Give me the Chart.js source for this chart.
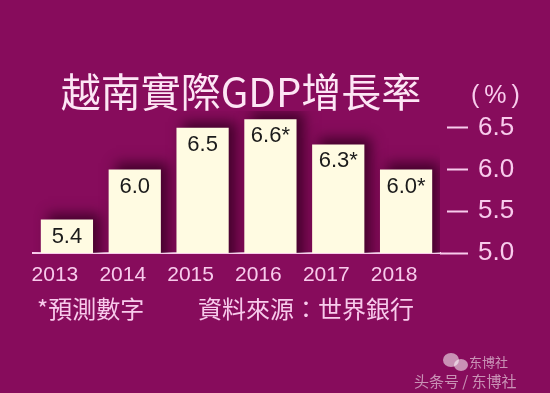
<!DOCTYPE html>
<html>
<head>
<meta charset="utf-8">
<script src="https://cdn.jsdelivr.net/npm/chart.js@4/dist/chart.umd.min.js"></script>
<style>
  html, body { margin: 0; padding: 0; background: #870c5c; }
  #wrap { width: 550px; height: 393px; position: relative; }
</style>
</head>
<body>
<div id="wrap"><canvas id="gdp-chart"></canvas></div>
<script>
const years = ['2013', '2014', '2015', '2016', '2017', '2018'];
const growth = [5.4, 6.0, 6.5, 6.6, 6.3, 6.0];
const forecast = [false, false, false, true, true, true];
const yTicks = [5.0, 5.5, 6.0, 6.5];

const titleText = '越南實際GDP增長率';
const unitText = '(%)';
const noteText = '*預測數字';
const sourceText = '資料來源：世界銀行';

const bg = '#870c5c';
const pink = '#f8cbec';
const cream = '#fffbe2';

// background, headings and footer text
const decor = {
  id: 'decor',
  beforeDraw(chart) {
    const ctx = chart.ctx;
    ctx.save();
    ctx.fillStyle = bg;
    ctx.fillRect(0, 0, chart.width, chart.height);
    ctx.restore();
  },
  afterDraw(chart) {
    const ctx = chart.ctx;
    ctx.save();
    ctx.textBaseline = 'middle';

    ctx.fillStyle = '#fde6f5';
    ctx.font = '40px "Noto Sans CJK TC", "Liberation Sans", sans-serif';
    ctx.textAlign = 'center';
    ctx.fillText(titleText, 241, 92);

    ctx.fillStyle = pink;
    ctx.font = '25px "Liberation Sans", Arial, sans-serif';
    ctx.letterSpacing = '5px';
    ctx.textAlign = 'left';
    ctx.fillText(unitText, 471, 96);
    ctx.letterSpacing = '0px';

    ctx.font = '24px "Noto Sans CJK TC", sans-serif';
    ctx.fillText(noteText, 37, 309);
    ctx.fillText(sourceText, 198, 309);

    // watermark
    ctx.fillStyle = 'rgba(255,255,255,0.55)';
    ctx.beginPath();
    ctx.ellipse(451, 360, 8, 7, 0, 0, Math.PI * 2);
    ctx.fill();
    ctx.beginPath();
    ctx.ellipse(461, 365, 7, 6, 0, 0, Math.PI * 2);
    ctx.fill();
    ctx.font = '13px "Noto Sans CJK SC", sans-serif';
    ctx.fillText('东博社', 469, 362);
    ctx.font = '15px "Noto Sans CJK SC", sans-serif';
    ctx.fillText('头条号 / 东博社', 414, 381);
    ctx.restore();
  }
};

// dark halo behind the bars and value labels on top
const barExtras = {
  id: 'barExtras',
  beforeDatasetDraw(chart) {
    const ctx = chart.ctx;
    ctx.save();
    ctx.shadowColor = 'rgba(60, 0, 38, 0.9)';
    ctx.shadowBlur = 12;
    ctx.shadowOffsetX = 7;
    ctx.shadowOffsetY = -6;
  },
  afterDatasetDraw(chart) {
    const ctx = chart.ctx;
    ctx.restore();
    ctx.save();
    ctx.fillStyle = '#1b1b1b';
    ctx.font = '22px "Liberation Sans", Arial, sans-serif';
    ctx.textAlign = 'center';
    ctx.textBaseline = 'middle';
    chart.getDatasetMeta(0).data.forEach((bar, i) => {
      const label = growth[i].toFixed(1) + (forecast[i] ? '*' : '');
      ctx.fillText(label, bar.x, bar.y + 17);
    });
    ctx.restore();
  }
};

new Chart(document.getElementById('gdp-chart'), {
  type: 'bar',
  data: {
    labels: years,
    datasets: [{
      data: growth,
      backgroundColor: cream,
      borderWidth: 0,
      barPercentage: 0.77,
      categoryPercentage: 1
    }]
  },
  options: {
    responsive: true,
    maintainAspectRatio: false,
    animation: false,
    layout: {
      padding: { top: 111, left: 33, right: 0, bottom: 110 }
    },
    scales: {
      x: {
        grid: { display: false, drawTicks: false },
        border: { display: true, color: pink, width: 2 },
        ticks: {
          color: pink,
          padding: 10,
          labelOffset: -12,
          font: { family: '"Liberation Sans", Arial', size: 21 }
        },
        afterFit: s => { s.height = 30; }
      },
      y: {
        position: 'right',
        min: 5.0,
        max: 6.7,
        afterBuildTicks: s => { s.ticks = yTicks.map(v => ({ value: v })); },
        grid: {
          drawOnChartArea: false,
          drawTicks: true,
          tickLength: 28,
          tickColor: pink,
          tickWidth: 2,
          tickBorderDash: ctx => (ctx.tick && ctx.tick.value === 5 ? [] : [0, 7, 21, 100])
        },
        border: { display: false },
        ticks: {
          color: pink,
          padding: 10,
          callback: v => v.toFixed(1),
          font: { family: '"Liberation Sans", Arial', size: 26 }
        },
        afterFit: s => { s.width = 110; }
      }
    },
    plugins: {
      legend: { display: false },
      tooltip: { enabled: false }
    }
  },
  plugins: [decor, barExtras]
});
</script>
</body>
</html>
